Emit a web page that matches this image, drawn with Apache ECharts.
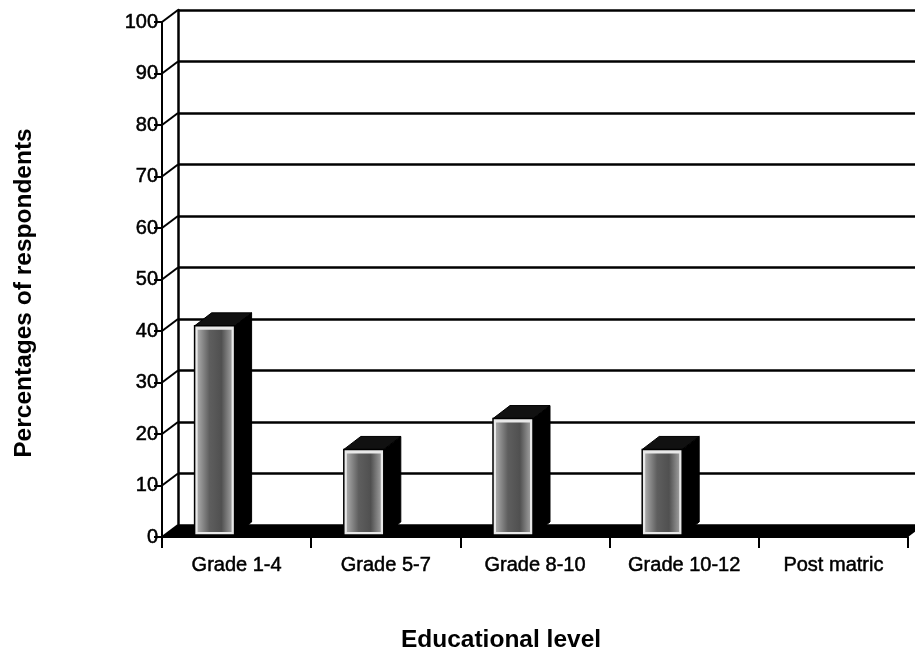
<!DOCTYPE html>
<html>
<head>
<meta charset="utf-8">
<script src="https://cdn.jsdelivr.net/npm/echarts@6/dist/echarts.min.js"></script>
<style>
  html, body { margin: 0; padding: 0; background: #fff; }
  #chart { width: 915px; height: 653px; }
</style>
</head>
<body>
<div id="chart"></div>
<script>
var categories = ['Grade 1-4', 'Grade 5-7', 'Grade 8-10', 'Grade 10-12', 'Post matric'];
var percentages = [41, 17, 23, 17, 0];
var yTicks = [0, 10, 20, 30, 40, 50, 60, 70, 80, 90, 100];

var FONT = '"Liberation Sans", Arial, sans-serif';
var WALL_DX = 16, WALL_DY = 12;   // depth of the back wall
var BAR_DX = 17, BAR_DY = 13;     // depth of each bar
var BAR_W = 40, BAR_SHIFT = 42;   // front face width, shift left of category centre

var chart = echarts.init(document.getElementById('chart'), null, { renderer: 'canvas' });

var barData = percentages.map(function (v, i) { return [i, v]; });

var labelStyle = {
    color: '#000', fontFamily: FONT, fontSize: 20,
    textBorderColor: '#000', textBorderWidth: 0.5
};

var option = {
    backgroundColor: '#fff',
    animation: false,
    grid: [
        { left: 162, right: 7, top: 22, bottom: 116 },   // front plane
        { left: 178, right: 0, top: 10, bottom: 128 }    // back wall
    ],
    xAxis: [
        {
            type: 'category', gridIndex: 0, data: categories,
            axisLine: { lineStyle: { color: '#000', width: 2 } },
            axisTick: { show: true, interval: 0, length: 11, lineStyle: { color: '#000', width: 2 } },
            axisLabel: Object.assign({ margin: 18, interval: 0 }, labelStyle),
            splitLine: { show: false },
            z: 5
        },
        {
            type: 'category', gridIndex: 1, data: categories, show: false
        }
    ],
    yAxis: [
        {
            type: 'value', gridIndex: 0, min: 0, max: 100, interval: 10,
            axisLine: { show: true, lineStyle: { color: '#000', width: 2 } },
            axisTick: { show: true, length: 8, lineStyle: { color: '#000', width: 2 } },
            axisLabel: Object.assign({ margin: 4 }, labelStyle),
            splitLine: { show: false },
            z: 5
        },
        {
            type: 'value', gridIndex: 1, min: 0, max: 100, interval: 10,
            axisLine: { show: true, lineStyle: { color: '#000', width: 2.5 } },
            axisTick: { show: false },
            axisLabel: { show: false },
            splitLine: { show: true, lineStyle: { color: '#000', width: 2.5 } }
        }
    ],
    graphic: [
        {
            type: 'text', x: 24, y: 293, rotation: Math.PI / 2,
            style: {
                text: 'Percentages of respondents', fill: '#000',
                font: 'bold 24.5px ' + FONT, align: 'center', verticalAlign: 'middle'
            }
        },
        {
            type: 'text', x: 501, y: 640,
            style: {
                text: 'Educational level', fill: '#000',
                font: 'bold 24.5px ' + FONT, align: 'center', verticalAlign: 'middle'
            }
        }
    ],
    series: [
        {
            // side wall connectors at each tick
            type: 'custom', xAxisIndex: 0, yAxisIndex: 0, z: 3,
            data: yTicks.map(function (t) { return [0, t]; }),
            renderItem: function (params, api) {
                var cs = params.coordSys;
                var y = api.coord([0, api.value(1)])[1];
                return {
                    type: 'line',
                    shape: { x1: cs.x, y1: y, x2: cs.x + WALL_DX, y2: y - WALL_DY },
                    style: { stroke: '#000', lineWidth: 2 }
                };
            }
        },
        {
            // floor
            type: 'custom', xAxisIndex: 0, yAxisIndex: 0, z: 3,
            data: [[0, 0]],
            renderItem: function (params, api) {
                var cs = params.coordSys;
                var y0 = api.coord([0, 0])[1];
                return {
                    type: 'polygon',
                    shape: { points: [
                        [cs.x, y0], [cs.x + cs.width, y0],
                        [cs.x + cs.width + WALL_DX, y0 - WALL_DY], [cs.x + WALL_DX, y0 - WALL_DY]
                    ] },
                    style: { fill: '#000' }
                };
            }
        },
        {
            // 3D bars
            type: 'custom', xAxisIndex: 0, yAxisIndex: 0, z: 4,
            data: barData,
            renderItem: function (params, api) {
                var top = api.coord([api.value(0), api.value(1)]);
                var base = api.coord([api.value(0), 0]);
                var h = base[1] - top[1];
                if (h < 1) return { type: 'group', children: [] };
                var x = top[0] - BAR_SHIFT;
                var y = top[1];
                var bottom = base[1] - 2;
                return {
                    type: 'group',
                    children: [
                        {
                            type: 'polygon',
                            shape: { points: [
                                [x + BAR_W, y], [x + BAR_W + BAR_DX, y - BAR_DY],
                                [x + BAR_W + BAR_DX, bottom - BAR_DY], [x + BAR_W, bottom]
                            ] },
                            style: { fill: '#000', stroke: '#000', lineWidth: 1 }
                        },
                        {
                            type: 'polygon',
                            shape: { points: [
                                [x, y], [x + BAR_DX, y - BAR_DY],
                                [x + BAR_W + BAR_DX, y - BAR_DY], [x + BAR_W, y]
                            ] },
                            style: { fill: '#111', stroke: '#000', lineWidth: 1 }
                        },
                        {
                            type: 'rect',
                            shape: { x: x, y: y, width: BAR_W, height: bottom - y },
                            style: { fill: '#e8e8e8', stroke: '#000', lineWidth: 1.5 }
                        },
                        {
                            type: 'rect',
                            shape: { x: x + 3, y: y + 4, width: BAR_W - 6, height: bottom - y - 7 },
                            style: {
                                fill: new echarts.graphic.LinearGradient(0, 0, 1, 0, [
                                    { offset: 0, color: '#a8a8a8' },
                                    { offset: 0.35, color: '#5e5e5e' },
                                    { offset: 0.7, color: '#505050' },
                                    { offset: 1, color: '#9a9a9a' }
                                ])
                            }
                        }
                    ]
                };
            }
        }
    ]
};

chart.setOption(option);
</script>
</body>
</html>
